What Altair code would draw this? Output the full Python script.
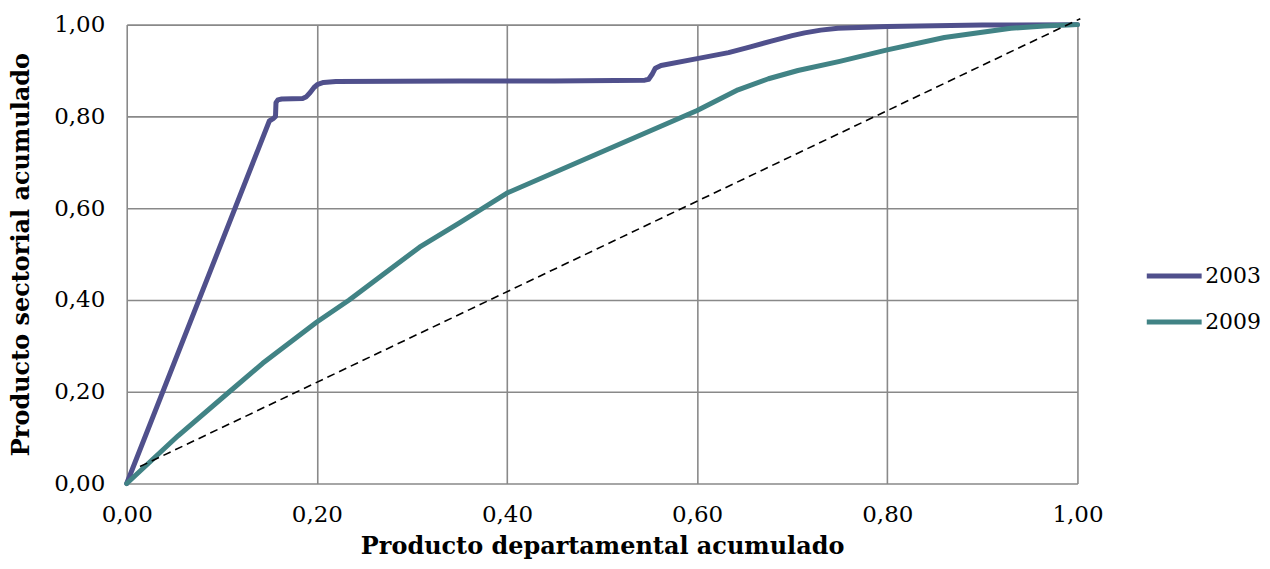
import altair as alt
import pandas as pd

# Lorenz-style curves
x_2003 = [0.0, 0.150, 0.154, 0.1565, 0.157, 0.159, 0.163, 0.185, 0.189, 0.193, 0.197, 0.201, 0.207,
          0.22, 0.35, 0.45, 0.545, 0.549, 0.553, 0.556, 0.562, 0.600, 0.633, 0.655, 0.678, 0.700,
          0.713, 0.730, 0.748, 0.800, 0.900, 1.0]
y_2003 = [0.0, 0.790, 0.795, 0.800, 0.830, 0.836, 0.838, 0.839, 0.843, 0.852, 0.863, 0.870, 0.874,
          0.876, 0.877, 0.877, 0.879, 0.881, 0.893, 0.905, 0.911, 0.926, 0.939, 0.951, 0.964, 0.976,
          0.982, 0.988, 0.992, 0.996, 0.999, 1.0]

x_2009 = [0.0, 0.054, 0.108, 0.143, 0.200, 0.234, 0.270, 0.308, 0.350, 0.400, 0.500, 0.600, 0.643,
          0.675, 0.706, 0.750, 0.800, 0.860, 0.930, 0.965, 1.0]
y_2009 = [0.0, 0.104, 0.200, 0.262, 0.352, 0.400, 0.456, 0.515, 0.568, 0.633, 0.723, 0.813, 0.858,
          0.882, 0.900, 0.920, 0.945, 0.972, 0.992, 0.997, 1.0]

diag_x = [0.014, 1.003]
diag_y = [0.037, 1.013]

series = ["2003", "2009"]
colors = ["#50508C", "#418385"]
tick_values = [0, 0.2, 0.4, 0.6, 0.8, 1.0]

FONT = "DejaVu Serif"

df = pd.concat([
    pd.DataFrame({"x": x_2003, "y": y_2003, "serie": "2003", "order": range(len(x_2003))}),
    pd.DataFrame({"x": x_2009, "y": y_2009, "serie": "2009", "order": range(len(x_2009))}),
])
diag = pd.DataFrame({"x": diag_x, "y": diag_y})

label_expr = "replace(format(datum.value, '.2f'), '.', ',')"

xscale = alt.Scale(domain=[0, 1], nice=False)
yscale = alt.Scale(domain=[0, 1], nice=False)

lines = alt.Chart(df).mark_line(strokeWidth=5, strokeCap="round", strokeJoin="round",
                                interpolate="linear").encode(
    x=alt.X("x:Q", scale=xscale,
            axis=alt.Axis(title="Producto departamental acumulado", values=tick_values,
                          labelExpr=label_expr, ticks=False, domain=False, labelPadding=20,
                          labelFlush=False, titlePadding=8)),
    y=alt.Y("y:Q", scale=yscale,
            axis=alt.Axis(title="Producto sectorial acumulado", values=tick_values,
                          labelExpr=label_expr, ticks=False, domain=False, labelPadding=22,
                          labelFlush=False, titlePadding=20)),
    color=alt.Color("serie:N", scale=alt.Scale(domain=series, range=colors),
                    legend=alt.Legend(title=None, orient="none", legendX=1020, legendY=222,
                                      symbolType="stroke", symbolSize=3025, symbolStrokeWidth=5,
                                      labelFontSize=22, labelFont=FONT, labelColor="#000000",
                                      labelOffset=1, rowPadding=5)),
    order="order:Q",
)

diagonal = alt.Chart(diag).mark_line(color="#000000", strokeWidth=1.6, strokeDash=[8, 5]).encode(
    x=alt.X("x:Q", scale=xscale),
    y=alt.Y("y:Q", scale=yscale),
)

chart = alt.layer(lines, diagonal).properties(
    width=953, height=460,
    autosize=alt.AutoSizeParams(type="none"),
    padding={"left": 119, "top": 16, "right": 185, "bottom": 77},
    background="white",
).configure_axis(
    gridColor="#898989", gridWidth=1.6, gridOpacity=1,
    labelFont=FONT, labelFontSize=23, labelColor="#000000",
    titleFont=FONT, titleFontSize=24, titleFontWeight="bold", titleColor="#000000",
).configure_view(stroke=None)

chart.save("out.html", embed_options={"renderer": "svg", "actions": False})
